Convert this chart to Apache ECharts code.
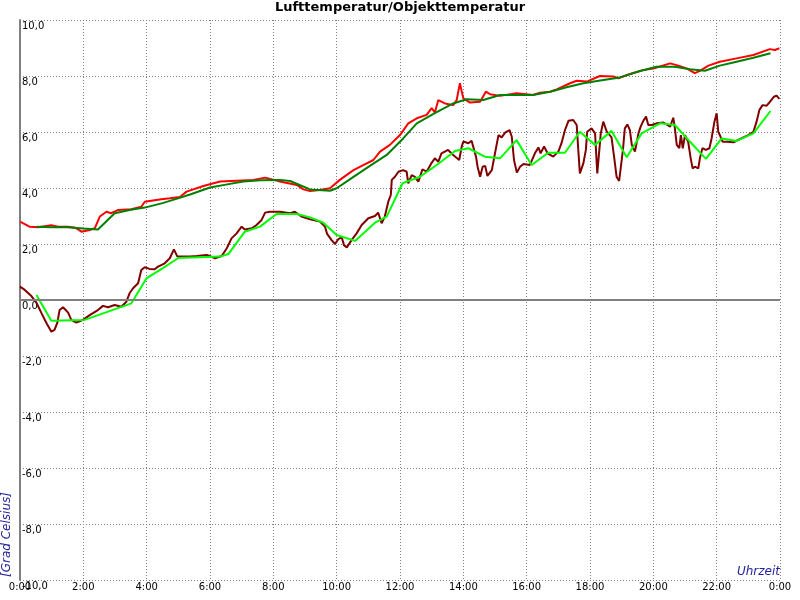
<!DOCTYPE html>
<html>
<head>
<meta charset="utf-8">
<script src="https://cdn.jsdelivr.net/npm/echarts@6/dist/echarts.min.js"></script>
<style>html,body{margin:0;padding:0;background:#fff}#c{width:800px;height:600px}</style>
</head>
<body>
<div id="c"></div>
<script>
var titleText = 'Lufttemperatur/Objekttemperatur';
var yAxisName = '[Grad Celsius]';
var xAxisName = 'Uhrzeit';
var yTicks = { min: -10, max: 10, interval: 2 };
var xTicks = { min: 0, max: 24, interval: 2 };

// Lufttemperatur (raw, red)
var airRawT = [0,0.3,0.57,0.99,1.2,1.52,1.75,1.94,2.2,2.36,2.52,2.73,2.88,3.09,3.52,3.83,3.94,4.46,4.74,5.05,5.26,5.79,6.32,6.84,7.37,7.74,8.21,8.74,8.95,9.16,9.47,9.79,10.1,10.53,10.84,11.16,11.37,11.68,12.0,12.26,12.53,12.84,13.0,13.1,13.21,13.42,13.68,13.79,13.89,14.0,14.21,14.53,14.71,14.84,15.16,15.68,16.2,16.42,16.74,16.95,17.37,17.58,17.9,18.31,18.74,18.89,19.26,19.68,20.0,20.53,20.79,21.05,21.31,21.47,21.74,22.1,22.63,23.16,23.68,23.84,23.98];
var airRawV = [2.8,2.62,2.6,2.67,2.62,2.62,2.58,2.44,2.5,2.56,2.98,3.15,3.1,3.21,3.24,3.33,3.51,3.6,3.63,3.68,3.87,4.07,4.23,4.26,4.29,4.37,4.23,4.11,3.95,3.89,3.93,3.99,4.29,4.64,4.82,5.0,5.3,5.54,5.89,6.31,6.49,6.61,6.85,6.7,7.14,7.02,6.96,7.14,7.74,7.2,7.05,7.08,7.44,7.35,7.29,7.38,7.32,7.4,7.44,7.52,7.74,7.83,7.8,8.0,7.98,7.92,8.07,8.21,8.27,8.45,8.37,8.27,8.1,8.18,8.37,8.51,8.63,8.75,8.96,8.93,8.99];

// Lufttemperatur (smoothed, dark green)
var airAvgT = [0.52,1.0,1.5,1.99,2.46,2.99,3.5,3.94,4.5,4.99,5.37,6.0,6.5,7.05,7.6,8.21,8.53,9.16,9.79,10.0,10.53,11.05,11.58,12.1,12.53,13.1,13.68,14.1,14.63,15.16,16.2,16.74,17.26,17.79,18.42,18.95,19.58,20.1,20.68,21.16,21.63,22.1,22.63,23.16,23.7];
var airAvgV = [2.62,2.6,2.6,2.55,2.52,3.1,3.22,3.3,3.46,3.63,3.77,4.02,4.12,4.23,4.28,4.29,4.25,3.95,3.9,3.99,4.4,4.79,5.18,5.77,6.31,6.67,7.02,7.17,7.14,7.32,7.32,7.44,7.6,7.74,7.86,7.95,8.18,8.33,8.33,8.24,8.19,8.37,8.51,8.65,8.81];

// Objekttemperatur (raw, dark red)
var objRawT = [0,0.15,0.36,0.52,0.67,0.83,0.99,1.09,1.18,1.25,1.36,1.52,1.62,1.78,1.99,2.2,2.46,2.62,2.78,2.99,3.2,3.36,3.46,3.57,3.73,3.83,3.94,4.09,4.25,4.36,4.57,4.73,4.86,4.97,5.37,5.58,5.89,6.0,6.16,6.37,6.53,6.68,6.84,7.0,7.1,7.32,7.47,7.63,7.74,7.89,8.21,8.53,8.68,8.89,9.16,9.47,9.63,9.7,9.84,9.95,10.05,10.16,10.23,10.32,10.47,10.63,10.79,11.0,11.21,11.31,11.42,11.52,11.63,11.71,11.74,11.84,11.95,12.1,12.21,12.26,12.37,12.47,12.58,12.71,12.84,13.0,13.1,13.21,13.31,13.52,13.68,13.87,13.95,14.0,14.16,14.26,14.32,14.4,14.45,14.53,14.61,14.69,14.76,14.9,15.0,15.11,15.21,15.32,15.46,15.53,15.6,15.69,15.79,15.9,16.1,16.26,16.37,16.44,16.55,16.66,16.84,17.0,17.1,17.21,17.32,17.47,17.58,17.63,17.68,17.79,17.87,17.91,18.05,18.16,18.23,18.34,18.42,18.53,18.68,18.76,18.84,18.92,18.97,19.04,19.1,19.18,19.26,19.32,19.42,19.53,19.6,19.68,19.77,19.84,19.95,20.1,20.32,20.53,20.63,20.68,20.74,20.82,20.87,20.93,21.0,21.1,21.18,21.24,21.31,21.42,21.47,21.55,21.66,21.77,21.84,21.93,22.0,22.05,22.1,22.19,22.32,22.53,22.74,23.0,23.16,23.26,23.35,23.45,23.58,23.68,23.81,23.89,23.98];
var objRawV = [0.48,0.36,0.14,-0.1,-0.45,-0.81,-1.13,-1.07,-0.81,-0.36,-0.26,-0.45,-0.71,-0.81,-0.71,-0.54,-0.36,-0.21,-0.26,-0.18,-0.24,-0.06,0.24,0.42,0.6,1.07,1.17,1.11,1.1,1.19,1.31,1.49,1.81,1.55,1.55,1.57,1.61,1.57,1.49,1.57,1.85,2.2,2.38,2.62,2.52,2.56,2.68,2.86,3.12,3.15,3.15,3.1,3.15,2.98,2.88,2.8,2.62,2.36,2.14,2.0,2.17,2.24,1.96,1.88,2.14,2.38,2.68,2.92,3.0,3.12,2.74,2.98,3.51,3.75,4.29,4.4,4.58,4.64,4.58,4.17,4.46,4.4,4.23,4.67,4.58,4.9,5.06,4.94,5.24,5.36,5.18,5.0,5.48,5.66,5.6,5.69,5.69,5.12,4.76,4.4,4.76,4.79,4.43,4.64,5.24,5.89,5.81,5.98,6.07,5.83,5.0,4.55,4.76,4.86,4.82,5.24,5.45,5.24,5.48,5.24,5.12,5.3,5.6,6.07,6.4,6.43,6.25,5.36,4.52,4.88,5.36,6.01,6.13,5.95,4.52,5.95,6.37,6.01,5.81,5.12,4.4,4.25,4.3,5.36,6.13,6.27,6.07,5.54,5.3,5.95,6.19,6.39,6.55,6.25,6.25,6.31,6.34,6.19,6.51,6.13,5.54,5.42,5.89,5.42,5.89,5.65,5.06,4.7,4.76,4.7,5.06,5.42,5.36,5.42,5.77,6.37,6.67,6.01,5.89,5.65,5.65,5.63,5.75,5.89,6.01,6.37,6.79,6.96,6.94,7.08,7.26,7.3,7.18];

// Objekttemperatur (smoothed, bright green)
var objAvgT = [0.52,0.99,2.04,3.52,3.99,4.5,5.0,6.32,6.58,7.1,7.58,8.1,8.74,9.16,9.58,10.0,10.58,11.21,11.58,12.08,12.63,13.16,13.74,14.16,14.68,15.16,15.68,16.16,16.68,17.21,17.68,18.16,18.68,19.16,19.63,20.21,20.68,21.16,21.66,22.16,22.63,23.16,23.7];
var objAvgV = [0.18,-0.74,-0.71,-0.12,0.77,1.13,1.5,1.55,1.64,2.44,2.62,3.07,3.07,2.95,2.76,2.32,2.11,2.76,2.98,4.17,4.40,4.82,5.32,5.42,5.12,5.06,5.71,4.82,5.26,5.26,6.01,5.54,6.04,5.10,5.95,6.31,6.25,5.65,5.04,5.77,5.68,5.95,6.75];

function pairs(t, v) { return t.map(function (x, i) { return [x, v[i]]; }); }

var chart = echarts.init(document.getElementById('c'));
var labelFont = 'DejaVu Sans';
var blue = '#22229c';
function lineSeries(name, t, v, color, extra) {
  var s = {
    name: name, type: 'line', data: pairs(t, v),
    showSymbol: false, symbol: 'none', smooth: false,
    lineStyle: { color: color, width: 2 }, itemStyle: { color: color },
    animation: false, silent: true
  };
  if (extra) for (var k in extra) s[k] = extra[k];
  return s;
}
chart.setOption({
  backgroundColor: '#ffffff',
  animation: false,
  title: {
    text: titleText, left: 'center', top: 1, padding: 0,
    textStyle: { fontFamily: labelFont, fontSize: 13, fontWeight: 'bold', color: '#000' }
  },
  grid: { left: 20, right: 20, top: 20, bottom: 20, containLabel: false },
  xAxis: {
    type: 'value', min: xTicks.min, max: xTicks.max, interval: xTicks.interval,
    axisLine: { show: false, onZero: false },
    axisTick: { show: false },
    axisLabel: {
      margin: 2, fontFamily: labelFont, fontSize: 10, color: '#000',
      showMinLabel: true, showMaxLabel: true,
      formatter: function (v) { return (v % 24) + ':00'; }
    },
    splitLine: { show: true, lineStyle: { color: '#808080', width: 1, type: [1, 2] } }
  },
  yAxis: {
    type: 'value', min: yTicks.min, max: yTicks.max, interval: yTicks.interval,
    axisLine: { show: true, lineStyle: { color: '#808080', width: 2 } },
    axisTick: { show: false },
    axisLabel: {
      inside: true, margin: 2, fontFamily: labelFont, fontSize: 10, color: '#000',
      verticalAlign: 'top', padding: [1, 0, 0, 0], showMinLabel: true, showMaxLabel: true,
      formatter: function (v) { return v.toFixed(1).replace('.', ','); }
    },
    splitLine: { show: true, lineStyle: { color: '#808080', width: 1, type: [1, 2] } }
  },
  graphic: [
    { type: 'text', x: 7, y: 577, rotation: Math.PI / 2,
      style: { text: yAxisName, font: 'italic 12px "DejaVu Sans"', fill: blue, textAlign: 'left', textVerticalAlign: 'middle' } },
    { type: 'text', x: 780, y: 578,
      style: { text: xAxisName, font: 'italic 12px "DejaVu Sans"', fill: blue, textAlign: 'right', textVerticalAlign: 'bottom' } }
  ],
  series: [
    lineSeries('Lufttemperatur', airRawT, airRawV, '#ff0000', {
      markLine: { silent: true, symbol: 'none', label: { show: false }, animation: false,
        lineStyle: { color: '#808080', width: 2, type: 'solid' }, data: [{ yAxis: 0 }] }
    }),
    lineSeries('Lufttemperatur Mittel', airAvgT, airAvgV, '#008000'),
    lineSeries('Objekttemperatur', objRawT, objRawV, '#800000'),
    lineSeries('Objekttemperatur Mittel', objAvgT, objAvgV, '#00ff00')
  ]
});
</script>
</body>
</html>
